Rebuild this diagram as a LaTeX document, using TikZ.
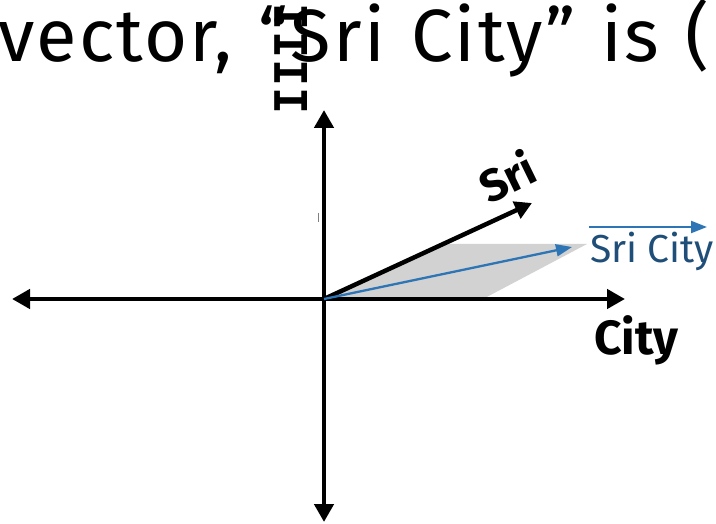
\documentclass[tikz,border=0pt]{standalone}
\usepackage{fontspec}
\setmainfont{Fira Sans}
\newfontfamily\titlefont{Fira Sans}[WordSpace=1.2,LetterSpace=3]
\newfontfamily\ladderfont{DejaVu Sans Mono}
\usetikzlibrary{arrows.meta}
\definecolor{vblue}{HTML}{2E75B6}
\definecolor{tblue}{HTML}{1F4E79}
\definecolor{shadegray}{HTML}{D2D2D2}
\begin{document}
\begin{tikzpicture}[x=1pt,y=-1pt,
  axisline/.style={line width=4.5pt, {Triangle[length=18pt,width=19pt]}-{Triangle[length=18pt,width=19pt]}},
  vecblack/.style={line width=4.5pt, -{Triangle[length=17pt,width=18pt]}},
  vecblue/.style={vblue, line width=2.3pt, -{Triangle[length=16pt,width=12pt]}},
  bigtext/.style={font=\titlefont\fontsize{74}{74}\selectfont, anchor=base west, inner sep=0pt},
  axlabel/.style={font=\bfseries\fontsize{45}{45}\selectfont, inner sep=0pt},
  bluelabel/.style={font=\fontsize{39}{39}\selectfont, text=tblue, anchor=base west, inner sep=0pt}]
\useasboundingbox (0,0) rectangle (716,524);
\clip (0,0) rectangle (716,524);

% top text
\node[bigtext] (title) at (-2,62) {vector, “Sri City” is (};
\node[font=\ladderfont\bfseries\fontsize{45}{45}\selectfont, rotate=90, inner sep=0pt] (ladder) at (291,59) {I\hspace{1pt}I\hspace{1pt}I\hspace{1pt}I};

% coordinates
\coordinate (O) at (324,299);
\coordinate (xl) at (12,299);
\coordinate (xr) at (625,299);
\coordinate (yt) at (324,110);
\coordinate (yb) at (324,522);
\coordinate (sritip) at (532,203);
\coordinate (sctip) at (572,247);
\coordinate (p1) at (483,299);
\coordinate (p2) at (587,244);
\coordinate (p3) at (443,244);
\coordinate (la) at (589,227);
\coordinate (lb) at (707,227);

% shaded parallelogram
\fill[shadegray] (O) -- (p1) -- (p2) -- (p3) -- cycle;

% axes
\draw[axisline] (xl) -- (xr);
\draw[axisline] (yb) -- (yt);
\draw[gray, line width=1pt] (318,213) -- (318,222);

% vectors
\draw[vecblack] (O) -- (sritip);
\draw[vecblue] (O) -- (sctip);
\draw[vecblue] (la) -- (lb);

% labels
\node[axlabel, rotate=26] (sri) at (507,176) {Sri};
\node[axlabel, font=\bfseries\fontsize{48}{48}\selectfont, anchor=base west] (city) at (594,355) {City};
\node[bluelabel] (sricity) at (590,263) {Sri City};
\end{tikzpicture}
\end{document}
